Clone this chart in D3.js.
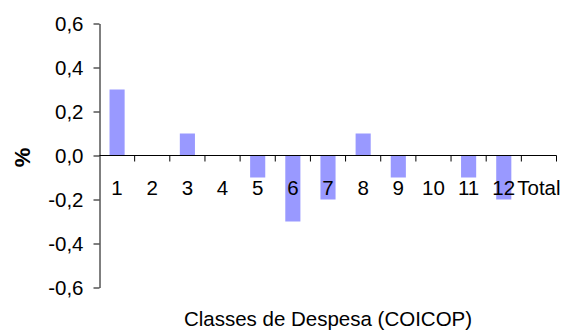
<!DOCTYPE html>
<html>
<head>
<meta charset="utf-8">
<script src="https://cdn.jsdelivr.net/npm/d3@7"></script>
<style>
  html, body { margin: 0; padding: 0; background: #fff; }
  svg { display: block; font-family: Arial, "Liberation Sans", sans-serif; }
</style>
</head>
<body>
<svg id="chart" width="564" height="333"></svg>
<script>
// Price change by expenditure class (COICOP), in percentage points
const categories = ["1", "2", "3", "4", "5", "6", "7", "8", "9", "10", "11", "12", "Total"];
const values = [0.3, 0, 0.1, 0, -0.1, -0.3, -0.2, 0.1, -0.1, 0, -0.1, -0.2, 0];
const yTicks = [-0.6, -0.4, -0.2, 0, 0.2, 0.4, 0.6];

const svg = d3.select("#chart");
const plot = { left: 99.5, right: 556.5, top: 23.5, bottom: 287.5 };
const fontSize = "20.5px";

const x = d3.scaleBand().domain(categories).range([plot.left, plot.right]).padding(0);
const y = d3.scaleLinear().domain([-0.6, 0.6]).range([plot.bottom, plot.top]);
const fmt = v => d3.format(".1f")(v).replace(".", ",").replace("−", "-");

const barW = x.bandwidth() * 0.43;

// bars
svg.append("g")
  .selectAll("rect")
  .data(values.map((v, i) => ({ c: categories[i], v })))
  .join("rect")
  .attr("x", d => x(d.c) + (x.bandwidth() - barW) / 2)
  .attr("width", barW)
  .attr("y", d => y(Math.max(0, d.v)))
  .attr("height", d => Math.abs(y(d.v) - y(0)))
  .attr("fill", "#9999ff");

// y axis
const yAxis = svg.append("g")
  .attr("transform", `translate(${plot.left},0)`)
  .call(d3.axisLeft(y).tickValues(yTicks).tickFormat(fmt).tickSize(6).tickPadding(10).tickSizeOuter(0));
yAxis.select(".domain").attr("stroke", "#000");
yAxis.selectAll(".tick line").attr("stroke", "#000");
yAxis.selectAll(".tick text")
  .attr("fill", "#000")
  .style("font-size", fontSize)
  .style("font-family", "Arial, 'Liberation Sans', sans-serif");

// x axis along zero, ticks at band boundaries
const xAxisG = svg.append("g").attr("transform", `translate(0,${y(0)})`);
xAxisG.append("line")
  .attr("x1", plot.left).attr("x2", plot.right)
  .attr("stroke", "#000");
const bounds = categories.map(c => x(c) + x.bandwidth());
xAxisG.selectAll("line.tk")
  .data(bounds)
  .join("line")
  .attr("class", "tk")
  .attr("x1", d => d).attr("x2", d => d)
  .attr("y1", 0).attr("y2", 6)
  .attr("stroke", "#000");
xAxisG.selectAll("text")
  .data(categories)
  .join("text")
  .attr("x", d => x(d) + x.bandwidth() / 2)
  .attr("y", 39.5)
  .attr("text-anchor", "middle")
  .style("font-size", fontSize)
  .attr("fill", "#000")
  .text(d => d);

// axis titles
svg.append("text")
  .attr("transform", `translate(29.5,${y(0) + 2}) rotate(-90)`)
  .attr("text-anchor", "middle")
  .style("font-size", "22px")
  .style("font-weight", "bold")
  .attr("fill", "#000")
  .text("%");

svg.append("text")
  .attr("x", (plot.left + plot.right) / 2)
  .attr("y", 326)
  .attr("text-anchor", "middle")
  .style("font-size", fontSize)
  .attr("fill", "#000")
  .text("Classes de Despesa (COICOP)");
</script>
</body>
</html>
